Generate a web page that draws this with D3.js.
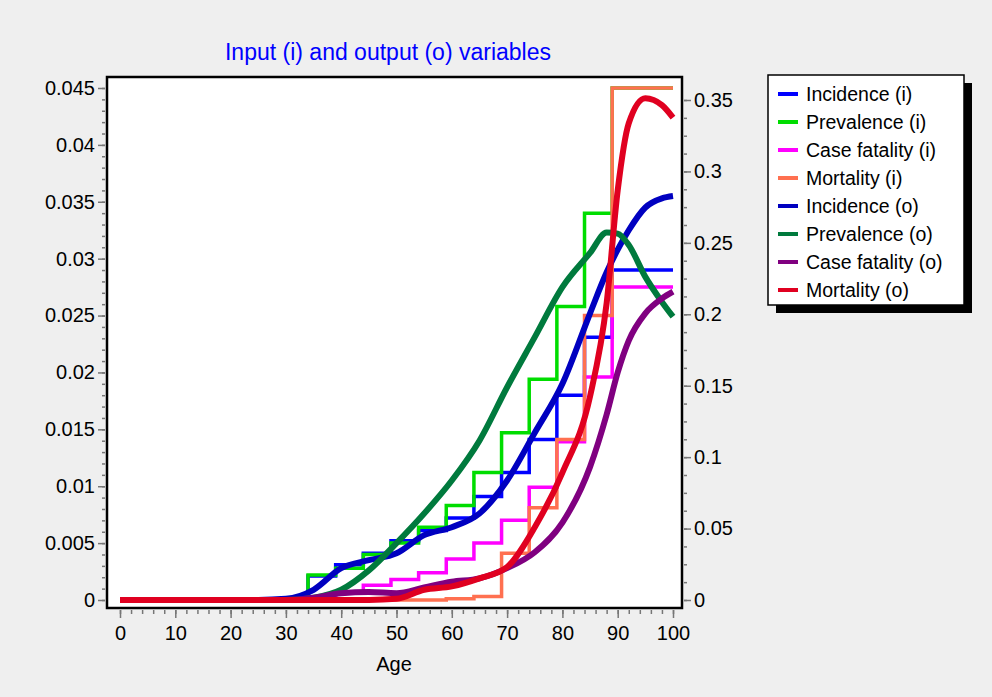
<!DOCTYPE html>
<html><head><meta charset="utf-8">
<script src="https://cdn.jsdelivr.net/npm/d3@7"></script>
<style>body{margin:0;background:#fff;font-family:"Liberation Sans",Arial,sans-serif}</style>
</head><body><div id="chart"></div>
<script>
// step series: value per 5-year group, groups start at these ages
const stepAges = [0, 34, 39, 44, 49, 54, 59, 64, 69, 74, 79, 84, 89, 100];
const incidenceI  = [0, 0.0021, 0.0031, 0.0041, 0.0052, 0.0061, 0.0072, 0.0091, 0.0112, 0.0141, 0.018, 0.0231, 0.029];
const prevalenceI = [0, 0.0022, 0.0028, 0.0040, 0.0050, 0.0064, 0.0083, 0.0112, 0.0147, 0.0194, 0.0258, 0.034, 0.045];
const caseFatI    = [0, 0.0002, 0.0007, 0.0013, 0.0018, 0.0024, 0.0036, 0.0050, 0.0070, 0.0099, 0.0139, 0.0196, 0.0275];
const mortalityI  = [0, 0, 0, 0, 0, 0, 0.0001, 0.0003, 0.0041, 0.0081, 0.0141, 0.025, 0.045];

// smooth output series
const ages = [0, 5, 10, 15, 20, 25, 30, 35, 40, 45, 50, 55, 60, 65, 70, 75, 80, 85, 88, 90, 92, 95, 98, 100];
const incidenceO  = [0,0,0,0,0,0,0.0001,0.0009,0.0028,0.0035,0.0041,0.0057,0.0064,0.0076,0.0105,0.0147,0.019,0.0252,0.0288,0.0308,0.0325,0.0345,0.0353,0.0355];
const prevalenceO = [0,0,0,0,0,0,0,0.0002,0.0009,0.0026,0.005,0.0076,0.0105,0.014,0.0187,0.0231,0.0275,0.0305,0.0323,0.0322,0.0312,0.0284,0.0262,0.0249];
const caseFatO    = [0,0,0,0,0,0,0,0.0002,0.0006,0.0007,0.0006,0.0011,0.0016,0.0019,0.0028,0.0042,0.0068,0.0117,0.0163,0.02,0.0228,0.0252,0.0265,0.0271];
const mortalityO  = [0,0,0,0,0,0,0,0,0,0,0.0001,0.0009,0.0012,0.0019,0.0029,0.0064,0.0112,0.0179,0.0261,0.036,0.0419,0.0441,0.0435,0.0424];

const legendNames = ['Incidence (i)','Prevalence (i)','Case fatality (i)','Mortality (i)','Incidence (o)','Prevalence (o)','Case fatality (o)','Mortality (o)'];
const colors = ['#0000ff','#00dd00','#ff00ff','#ff7050','#0000c0','#007a3d','#800080','#e00020'];

const W = 992, H = 697;
const svg = d3.select('#chart').append('svg').attr('width', W).attr('height', H);
svg.append('rect').attr('width', W).attr('height', H).attr('fill', '#efefef');

const pL = 107, pR = 682, pT = 77, pB = 608;
const x = d3.scaleLinear().domain([0, 100]).range([120, 673]);
const y = d3.scaleLinear().domain([0, 0.045]).range([600, 88]);
const y2 = d3.scaleLinear().domain([0, 0.35]).range([600, 100]);

svg.append('rect').attr('x', pL).attr('y', pT).attr('width', pR - pL).attr('height', pB - pT)
  .attr('fill', '#fff').attr('stroke', '#000').attr('stroke-width', 2.5);

svg.append('text').attr('x', 388).attr('y', 60).attr('text-anchor', 'middle')
  .attr('fill', '#0000ff').attr('font-size', 23).text('Input (i) and output (o) variables');

// axes
const fmt = d => d === 0 ? '0' : String(+d.toFixed(3));
const ax = svg.append('g').attr('transform', `translate(0,${pB + 2})`)
  .call(d3.axisBottom(x).tickValues(d3.range(0, 101, 10)).tickSize(8).tickSizeOuter(0));
svg.append('g').attr('transform', `translate(0,${pB + 2})`)
  .call(d3.axisBottom(x).tickValues(d3.range(0, 101, 2)).tickSize(4).tickFormat('').tickSizeOuter(0));
svg.append('g').attr('transform', `translate(${pL - 2},0)`)
  .call(d3.axisLeft(y).tickValues(d3.range(0, 0.0451, 0.005)).tickFormat(fmt).tickSize(7).tickSizeOuter(0));
svg.append('g').attr('transform', `translate(${pL - 2},0)`)
  .call(d3.axisLeft(y).tickValues(d3.range(0, 0.0451, 0.001)).tickFormat('').tickSize(3).tickSizeOuter(0));
svg.append('g').attr('transform', `translate(${pR + 2},0)`)
  .call(d3.axisRight(y2).tickValues(d3.range(0, 0.351, 0.05)).tickFormat(fmt).tickSize(7).tickSizeOuter(0));
svg.append('g').attr('transform', `translate(${pR + 2},0)`)
  .call(d3.axisRight(y2).tickValues(d3.range(0, 0.351, 0.0125)).tickFormat('').tickSize(3).tickSizeOuter(0));
svg.selectAll('.domain').remove();
svg.selectAll('.tick line').attr('stroke', '#777').attr('stroke-width', 1.5);
svg.selectAll('.tick text').attr('font-size', 20).attr('font-family', '"Liberation Sans",Arial,sans-serif').attr('fill', '#000');
ax.selectAll('.tick text').attr('dy', '0.95em');

svg.append('text').attr('x', 394).attr('y', 671).attr('text-anchor', 'middle').attr('font-size', 20).text('Age');

// series
const plot = svg.append('g');
const stepLine = d3.line().x(d => x(d[0])).y(d => y(d[1])).curve(d3.curveStepAfter);
[incidenceI, prevalenceI, caseFatI, mortalityI].forEach((vals, i) => {
  const pts = vals.map((v, k) => [stepAges[k], v]);
  pts.push([100, vals[vals.length - 1]]);
  plot.append('path').datum(pts).attr('d', stepLine).attr('fill', 'none')
    .attr('stroke', colors[i]).attr('stroke-width', 3.5);
});
const smooth = d3.line().x(d => x(d[0])).y(d => y(d[1])).curve(d3.curveMonotoneX);
[incidenceO, prevalenceO, caseFatO, mortalityO].forEach((vals, i) => {
  plot.append('path').datum(vals.map((v, k) => [ages[k], v])).attr('d', smooth).attr('fill', 'none')
    .attr('stroke', colors[i + 4]).attr('stroke-width', 6);
});

// legend
const lg = svg.append('g').attr('transform', 'translate(768,75)');
lg.append('rect').attr('x', 8).attr('y', 8).attr('width', 196).attr('height', 230).attr('fill', '#000');
lg.append('rect').attr('width', 196).attr('height', 230).attr('fill', '#fff').attr('stroke', '#000').attr('stroke-width', 1.5);
legendNames.forEach((n, i) => {
  const yy = 19 + i * 28;
  lg.append('line').attr('x1', 10).attr('x2', 30).attr('y1', yy).attr('y2', yy)
    .attr('stroke', colors[i]).attr('stroke-width', 4);
  lg.append('text').attr('x', 38).attr('y', yy + 7).attr('font-size', 19.5).text(n);
});
</script></body></html>
